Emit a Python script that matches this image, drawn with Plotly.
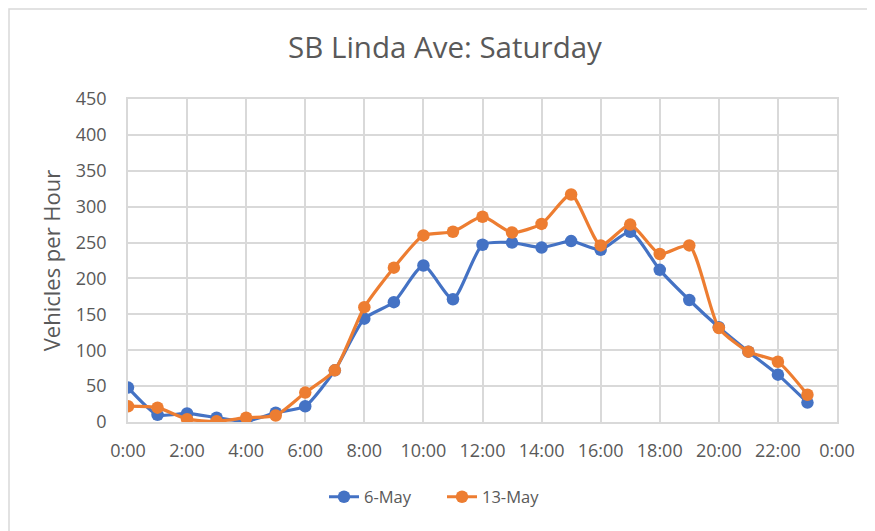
import plotly.graph_objects as go

hours = [0, 1, 2, 3, 4, 5, 6, 7, 8, 9, 10, 11, 12, 13, 14, 15, 16, 17, 18, 19, 20, 21, 22, 23]
may6 = [48, 10, 12, 6, 1, 13, 22, 72, 144, 167, 218, 171, 247, 250, 243, 252, 240, 265, 212, 170, 132, 98, 66, 27]
may13 = [22, 20, 4, 1, 6, 9, 41, 72, 160, 215, 260, 265, 286, 264, 276, 317, 246, 275, 234, 246, 131, 98, 84, 38]
tick_vals = [0, 2, 4, 6, 8, 10, 12, 14, 16, 18, 20, 22, 24]
tick_text = ["0:00", "2:00", "4:00", "6:00", "8:00", "10:00", "12:00", "14:00",
             "16:00", "18:00", "20:00", "22:00", "0:00"]
series_names = ["6-May", "13-May"]
colors = ["#4472C4", "#ED7D31"]

FONT = "Open Sans"
GRAY = "#595959"
GRID = "#d9d9d9"

fig = go.Figure()
for name, vals, col in zip(series_names, [may6, may13], colors):
    fig.add_trace(go.Scatter(
        x=hours, y=vals, name=name, mode="lines+markers",
        line=dict(color=col, width=3.2, shape="spline", smoothing=0.6),
        marker=dict(color=col, size=12.5),
    ))

# page body has an 8px offset; figure coordinates = screen coordinates - 8
OFF = 8
W, H = 875 - OFF, 531 - OFF
L, R, T, B = 128 - OFF, W - (837 - OFF), 99 - OFF, H - (422 - OFF)
pw, ph = W - L - R, H - T - B

def px_x(p):
    return (p - OFF - L) / pw

def px_y(p):
    return (H - B - (p - OFF)) / ph

fig.update_layout(
    width=W, height=H,
    margin=dict(l=L, r=R, t=T, b=B),
    paper_bgcolor="white", plot_bgcolor="white",
    font=dict(family=FONT, color=GRAY, size=18),
    title=dict(text="SB Linda Ave: Saturday", x=px_x(445), xref="paper", xanchor="center",
               y=1 - (48 - OFF) / H, yanchor="middle", font=dict(size=29.5, color=GRAY, family=FONT)),
    showlegend=True,
    legend=dict(orientation="h", x=px_x(324), xanchor="left", y=px_y(497), yanchor="middle",
                entrywidth=73, entrywidthmode="pixels",
                font=dict(size=16.5, color=GRAY, family=FONT), bgcolor="rgba(0,0,0,0)"),
    xaxis=dict(range=[0, 24], tickvals=tick_vals, ticktext=tick_text,
               showgrid=True, gridcolor=GRID, gridwidth=1.5,
               showline=True, linecolor=GRID, linewidth=1.5, mirror=True,
               zeroline=False, ticks="", ticklabelstandoff=12,
               tickfont=dict(size=18, color=GRAY, family=FONT)),
    yaxis=dict(range=[0, 450], dtick=50, tick0=0,
               showgrid=True, gridcolor=GRID, gridwidth=1.5,
               showline=True, linecolor=GRID, linewidth=1.5, mirror=True,
               zeroline=False, ticks="", ticklabelstandoff=16,
               title=dict(text="Vehicles per Hour", standoff=9,
                          font=dict(size=22, color=GRAY, family=FONT)),
               tickfont=dict(size=18, color=GRAY, family=FONT)),
    shapes=[dict(type="rect", xref="paper", yref="paper",
                 x0=px_x(9), x1=px_x(900), y0=px_y(560), y1=px_y(9),
                 line=dict(color=GRID, width=1.5), fillcolor="rgba(0,0,0,0)", layer="below")],
)

fig.write_html("out.html")
